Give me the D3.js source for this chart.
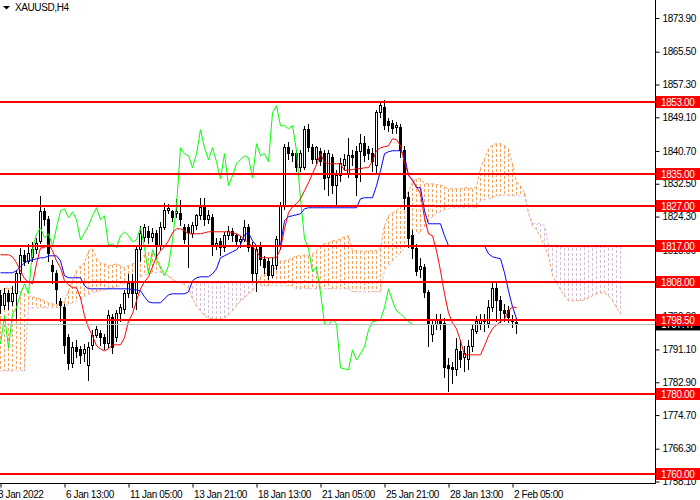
<!DOCTYPE html>
<html><head><meta charset="utf-8">
<script src="https://cdn.jsdelivr.net/npm/d3@7"></script>
<style>
html,body{margin:0;padding:0;background:#fff;overflow:hidden}
svg{display:block;font-family:"Liberation Sans",Arial,sans-serif}
text{font-size:10px;letter-spacing:-0.4px}
</style></head><body>
<svg id="c" width="700" height="500"></svg>
<script>
// ---- DATA ----
const symbol = "XAUUSD,H4";
const open = [1804.5,1802,1805,1803,1805,1810,1814.5,1813,1814,1816,
1818,1825.5,1823.5,1812,1810,1803,1801.5,1794,1787.5,1791.5,
1791,1790,1787,1792,1794.5,1795,1794,1792.5,1799,1794,
1800,1801,1805,1808,1805,1816,1819,1820.5,1819,1820,
1817,1821.5,1825.75,1825.5,1825,1825,1821.5,1821.5,1820,1822,
1824.5,1826.5,1823.5,1824,1817,1818,1816.5,1819.5,1820.5,1819.5,
1818,1818.5,1821.5,1817,1810,1816.5,1813.5,1813,1809.5,1812,
1817,1827,1841.5,1840,1840,1836.5,1836.5,1846,1841.5,1838.5,
1840.5,1840,1834,1839,1832,1834.5,1837,1835,1839.5,1840.5,
1840.5,1842.5,1841,1840,1837,1850.25,1851.5,1848,1847.5,1846.5,
1846.5,1840.75,1829,1819.5,1816.25,1811,1811.5,1805.25,1794.75,1797.25,
1798.5,1797.5,1787,1786.5,1786,1790.5,1789,1788.5,1791.75,1795.5,
1797.5,1798,1797.5,1801.5,1806.25,1803.25,1800.75,1800.75,1798.5,1797.75];
const high = [1806,1806.5,1806,1807,1811,1816.5,1816,1817.5,1818,1819,
1829.5,1826.5,1824.5,1813.5,1811,1804,1802.5,1795,1793,1793.5,
1792,1792.5,1793,1796,1797,1796,1795,1801,1800,1801,
1802.5,1806,1810,1810,1817,1822,1822.5,1822,1821.5,1821,
1823,1827.75,1827.5,1826,1828.75,1828.5,1822.5,1822.5,1823,1825,
1829,1829,1826,1825,1819,1819,1820.5,1822,1821.5,1820,
1819.5,1823.5,1822.5,1818,1817,1818,1814.5,1814,1814,1819.5,
1828,1842.5,1843,1841,1841,1841,1847,1847.5,1842.5,1842,
1841.5,1841,1841,1840,1836,1839,1840,1844,1841,1842,
1845,1844.5,1842,1841.5,1851,1853.25,1853.5,1849,1848.5,1848,
1847.5,1842,1830.5,1821,1817.5,1814,1812.5,1806,1798.5,1800,
1800,1799,1789,1788,1794,1793.5,1792,1793.5,1797.5,1799.5,
1800,1800,1803.5,1808.25,1808.25,1804.5,1802.5,1802,1799.75,1799];
const low = [1800,1801,1801,1802,1798.25,1808,1812,1812.5,1813,1815,
1817.5,1822,1813,1807.5,1802.5,1798,1790,1786,1786.5,1789,
1787.5,1788,1783.25,1791,1794,1792,1791,1791.5,1790,1793,
1798,1800,1804,1801.5,1801,1813,1818,1817.5,1818,1814,
1816,1821,1825,1823,1824,1822,1817.5,1811.5,1819,1821,
1823.5,1822,1822.5,1814.5,1816,1814.5,1815.5,1818.5,1818,1817,
1816.5,1818,1815.5,1808,1805.5,1812,1810,1808.5,1809,1811,
1816,1826,1838.5,1838,1835.5,1835.5,1836,1840.5,1837.5,1837.5,
1837,1831,1829.5,1830,1827,1833,1836,1834,1837,1829.5,
1833,1838,1838.5,1835.5,1835,1849,1846,1845.5,1845,1845,
1839,1826,1816.5,1813.75,1809.5,1809,1804,1791.75,1793,1796,
1796,1784,1780.5,1782.5,1784.5,1786.5,1785.5,1786,1790.5,1795,
1796,1795.5,1796.5,1800.5,1798,1797.75,1798,1797.75,1796.5,1795];
const close = [1802,1805,1803,1805,1810,1814.5,1813,1815,1816,1817.5,
1825.5,1823.5,1815,1810.5,1806,1802,1792,1787.5,1791.5,1790.5,
1789.5,1791,1791.5,1794.5,1796,1794,1792.5,1799.5,1791.5,1800,
1801.5,1805,1807.5,1805,1816,1820,1821.5,1819,1820,1817,
1821.5,1825.75,1826.25,1824,1825.5,1823.5,1818.5,1820.25,1822,1824.5,
1826.5,1823.5,1824.5,1817,1817.5,1816.5,1819.5,1820.5,1819.5,1818,
1818.5,1821.5,1816.5,1810,1816,1813.5,1811.5,1809.5,1812,1818.5,
1827,1841.5,1840,1839.5,1836.5,1840,1846,1841.5,1838.5,1841.5,
1838,1833.75,1840,1832,1834.5,1837.5,1838.5,1839.5,1839,1834,
1842.5,1839.5,1840,1838,1850.25,1852,1847,1847,1846.25,1847,
1840.75,1828.75,1818.75,1816.25,1810.5,1811.75,1805.25,1797.5,1797.25,1798.5,
1797.5,1786.5,1786.25,1786,1791,1788.5,1790,1791.75,1796,1798,
1798.25,1798.5,1801.5,1806.25,1803.25,1800.75,1800,1799,1798,1797.47];
const tenkan = [1814.75,1814.75,1814.75,1814.25,1812.75,1810.75,1808.75,1808.0,1807.5,1812.5,
1816.5,1816.5,1817.5,1815.75,1813.25,1811.5,1808.25,1807.25,1806.5,1806.5,
1804.0,1799.5,1796.5,1794.5,1792.0,1791.25,1790.75,1791.25,1792.25,1792.25,
1792.25,1794.0,1798.25,1800.0,1803.25,1806.25,1808.0,1809.25,1811.75,1814.25,
1815.75,1816.75,1818.25,1820.25,1821.25,1821.25,1820.75,1820.0,1820.0,1820.0,
1820.0,1820.25,1820.5,1820.5,1820.5,1820.5,1820.5,1820.5,1820.25,1820.0,
1819.5,1818.5,1817.75,1816.75,1815.75,1814.0,1814.0,1814.0,1814.0,1814.0,
1816.25,1821.25,1825.25,1826.75,1827.5,1828.75,1830.75,1832.75,1835.0,1837.25,
1840.0,1837.75,1837.5,1837.5,1837.5,1837.5,1835.75,1836.0,1836.0,1836.25,
1836.25,1836.5,1836.5,1838.25,1840.75,1841.5,1841.75,1842.0,1843.75,1843.5,
1842.0,1837.75,1834.75,1833.25,1831.75,1830.0,1824.0,1820.0,1819.5,1815.75,
1810.75,1805.0,1800.25,1797.75,1796.25,1793.25,1789.75,1789.75,1789.75,1789.75,
1789.75,1792.0,1794.5,1796.25,1797.25,1798.0,1798.75,1800.75,1801.75,1801.5];
const kijun = [1810.25,1810.25,1810.25,1810.25,1810.75,1811.75,1812.75,1813.25,1813.5,1813.75,
1814.0,1814.0,1814.5,1814.5,1814.5,1813.25,1809.5,1809.0,1809.0,1809.0,
1809.0,1807.0,1806.25,1806.25,1806.25,1806.25,1806.25,1806.25,1806.25,1806.25,
1806.25,1806.25,1806.25,1806.0,1806.0,1805.75,1804.25,1803.0,1802.75,1802.75,
1802.75,1803.75,1804.75,1805.0,1805.0,1805.0,1805.0,1805.5,1808.25,1809.0,
1809.25,1809.25,1809.25,1810.0,1811.25,1814.0,1814.5,1815.0,1815.5,1816.0,
1817.25,1819.75,1820.25,1818.25,1817.0,1817.0,1817.0,1817.0,1817.0,1817.0,
1817.25,1823.25,1824.25,1824.5,1824.75,1825.0,1826.25,1826.5,1826.5,1826.5,
1826.5,1826.5,1826.5,1826.5,1826.5,1826.5,1826.5,1826.5,1826.5,1826.5,
1828.75,1829.0,1829.0,1829.0,1832.0,1835.75,1840.0,1840.5,1840.75,1840.75,
1840.75,1839.5,1834.5,1833.5,1831.5,1831.5,1825.75,1822.5,1822.5,1822.5,
1822.5,1819.5,1817.0,1817.0,1817.0,1817.0,1817.0,1817.0,1817.0,1817.0,
1817.0,1817.0,1815.0,1814.25,1814.0,1813.75,1810.25,1805.75,1801.75,1798.75];
const spanA = [1805.75,1806.25,1806.5,1806.25,1805.75,1805.5,1805.0,1804.25,1804.25,1804.0,
1803.75,1803.25,1802.75,1802.5,1802.25,1802.5,1803.25,1805.75,1808.25,1810.75,
1812.0,1812.75,1815.75,1816.25,1813.75,1812.75,1812.5,1812.0,1812.25,1812.5,
1812.0,1811.5,1812.0,1812.5,1812.75,1813.75,1814.75,1815.25,1815.0,1814.25,
1812.0,1810.25,1809.5,1808.75,1808.0,1807.75,1807.25,1806.5,1803.75,1802.0,
1800.75,1799.5,1799.0,1798.75,1798.75,1798.75,1799.0,1799.75,1800.75,1802.0,
1803.25,1804.0,1805.0,1805.75,1807.25,1809.25,1810.0,1810.25,1810.75,1812.0,
1813.25,1813.25,1813.5,1814.0,1814.5,1814.5,1814.75,1814.5,1815.0,1815.75,
1817.0,1817.5,1817.75,1818.25,1818.25,1818.75,1819.25,1819.5,1815.75,1815.75,
1815.75,1815.5,1815.75,1815.75,1815.75,1816.25,1822.0,1824.5,1825.25,1825.75,
1827.0,1828.25,1830.75,1832.75,1833.75,1833.75,1832.5,1832.5,1832.5,1832.25,
1832.25,1831.75,1831.25,1831.25,1831.25,1831.25,1831.5,1831.5,1831.25,1831.75,
1836.5,1838.75,1841.25,1842.25,1842.5,1842.5,1842.0,1841.25,1837.5,1833.0,
1832.0,1830.25,1825.25,1822.0,1821.0,1819.25,1817.0,1814.5,1809.5,1807.75,
1806.0,1804.5,1803.25,1803.25,1803.25,1803.25,1803.5,1804.0,1804.5,1805.0,
1805.25,1805.25,1804.5,1803.25,1801.5,1800.0];
const spanB = [1785.75,1785.75,1785.75,1785.75,1785.75,1785.75,1785.75,1801.5,1801.5,1801.5,
1801.5,1801.5,1801.5,1801.5,1801.5,1801.5,1802.0,1802.25,1802.75,1803.25,
1803.75,1804.25,1804.75,1805.25,1805.5,1805.75,1806.0,1806.25,1806.5,1806.75,
1807.0,1807.5,1808.0,1808.25,1808.75,1809.25,1809.75,1810.0,1810.25,1810.25,
1810.25,1810.25,1809.25,1808.5,1808.0,1807.75,1807.75,1807.75,1807.75,1807.75,
1807.75,1807.75,1807.75,1807.75,1807.75,1807.75,1807.75,1807.75,1807.75,1807.75,
1807.75,1807.75,1807.75,1807.75,1807.75,1807.0,1807.0,1807.0,1807.0,1807.0,
1807.0,1807.0,1807.0,1807.0,1806.25,1806.25,1806.25,1806.25,1806.25,1806.25,
1806.25,1806.25,1806.25,1806.25,1806.25,1806.25,1806.25,1806.25,1805.5,1805.5,
1805.5,1805.5,1805.5,1805.5,1805.5,1805.5,1810.75,1812.0,1813.25,1814.25,
1815.25,1816.5,1819.0,1819.5,1820.0,1820.5,1821.75,1823.25,1824.25,1825.0,
1825.5,1826.0,1826.25,1826.5,1826.5,1826.5,1826.5,1826.5,1826.5,1826.5,
1828.25,1828.5,1828.75,1829.0,1829.5,1829.5,1829.5,1829.5,1829.5,1829.5,
1829.5,1829.5,1825.25,1822.75,1822.5,1822.5,1822.0,1817.25,1816.75,1816.75,
1816.75,1816.75,1816.75,1816.75,1816.75,1816.75,1816.75,1816.75,1816.75,1816.75,
1816.75,1816.75,1816.75,1816.75,1816.75,1816.75];
const chikouShift = 26;
const levels = [1853, 1835, 1827, 1817, 1808, 1798.5, 1780, 1760];
const bidPrice = 1797.47;
const priceTicks = [1873.9,1865.5,1857.3,1849.1,1840.7,1832.5,1824.3,1815.9,1807.5,1799.3,1791.1,1782.9,1774.7,1766.3,1758.1];
const dateTickBars = [0,16,32,48,64,80,96,112,128];
const dateLabels = ["3 Jan 2022","6 Jan 13:00","11 Jan 05:00","13 Jan 21:00","18 Jan 13:00","21 Jan 05:00","25 Jan 21:00","28 Jan 13:00","2 Feb 05:00"];

// ---- CHART ----
const PR = 655, PB = 483;
const svg = d3.select('#c');
const x = d3.scaleLinear().domain([0,1]).range([0.5,4.5]);
const y = d3.scaleLinear().domain([1760,1853]).range([473.9,101.7]);

svg.append('defs').append('clipPath').attr('id','clip')
  .append('rect').attr('x',0).attr('y',0).attr('width',PR).attr('height',PB);
const plot = svg.append('g').attr('clip-path','url(#clip)');

// cloud hatch
const cIdx = d3.range(spanA.length);
plot.append('g').selectAll('line').data(cIdx).join('line')
  .attr('x1',k=>x(k)).attr('x2',k=>x(k))
  .attr('y1',k=>y(spanA[k])).attr('y2',k=>y(spanB[k]))
  .attr('stroke',k=>spanA[k]>=spanB[k]?'#F4A460':'#D8BFD8')
  .attr('stroke-width',1).attr('stroke-dasharray','3,2')
  .attr('shape-rendering','crispEdges');

const line = d3.line().x((d,i)=>x(i)).y(d=>y(d));
plot.append('path').attr('d',line(spanA)).attr('fill','none').attr('stroke','#F4A460').attr('stroke-dasharray','3,2');
plot.append('path').attr('d',line(spanB)).attr('fill','none').attr('stroke','#D8BFD8').attr('stroke-dasharray','3,2');

// candles
const idx = d3.range(close.length);
const cg = plot.append('g').attr('shape-rendering','crispEdges');
cg.selectAll('line').data(idx).join('line')
  .attr('x1',k=>x(k)).attr('x2',k=>x(k))
  .attr('y1',k=>y(high[k])).attr('y2',k=>y(low[k]))
  .attr('stroke','#000');
cg.selectAll('rect').data(idx).join('rect')
  .attr('x',k=>x(k)-1).attr('width',2)
  .attr('y',k=>y(Math.max(open[k],close[k])))
  .attr('height',k=>Math.max(Math.abs(y(open[k])-y(close[k])),0.6))
  .attr('fill',k=>close[k]>=open[k]?'#fff':'#000')
  .attr('stroke','#000');

// indicator lines
const chikou = close.slice(chikouShift);
plot.append('path').attr('d',line(chikou)).attr('fill','none').attr('stroke','#00FF00').attr('stroke-width',1);
plot.append('path').attr('d',line(kijun)).attr('fill','none').attr('stroke','#0000FF').attr('stroke-width',1);
plot.append('path').attr('d',line(tenkan)).attr('fill','none').attr('stroke','#FF0000').attr('stroke-width',1);

// bid line
plot.append('line').attr('x1',0).attr('x2',PR).attr('y1',Math.round(y(bidPrice))+0.5).attr('y2',Math.round(y(bidPrice))+0.5)
  .attr('stroke','#C0C0C0').attr('stroke-width',1);

// horizontal levels
plot.append('g').selectAll('line').data(levels).join('line')
  .attr('x1',0).attr('x2',PR)
  .attr('y1',d=>Math.round(y(d))).attr('y2',d=>Math.round(y(d)))
  .attr('stroke','#FF0000').attr('stroke-width',2);

// axes frame
svg.append('line').attr('x1',PR+0.5).attr('x2',PR+0.5).attr('y1',0).attr('y2',PB+1).attr('stroke','#000');
svg.append('line').attr('x1',0).attr('x2',PR+1).attr('y1',PB+0.5).attr('y2',PB+0.5).attr('stroke','#000');

const ay = svg.append('g').attr('transform',`translate(${PR+0.5},0)`)
  .call(d3.axisRight(y).tickValues(priceTicks).tickSize(4).tickPadding(3).tickFormat(d3.format('.2f')));
ay.attr('font-family',null).attr('font-size',null);
ay.select('.domain').remove();
ay.selectAll('.tick line').attr('stroke','#000');
ay.selectAll('.tick text').attr('fill','#000');

const ax = svg.append('g').attr('transform',`translate(0,${PB+0.5})`)
  .call(d3.axisBottom(x).tickValues(dateTickBars).tickSize(4).tickPadding(3).tickFormat((d,i)=>dateLabels[i]));
ax.attr('font-family',null).attr('font-size',null);
ax.select('.domain').remove();
ax.selectAll('.tick text').attr('text-anchor','start').attr('fill','#000').attr('x',(d,i)=>i===0?-3:1);

// bid label
const by = y(bidPrice);
svg.append('rect').attr('x',656).attr('y',by-5.5).attr('width',44).attr('height',12).attr('fill','#000');
svg.append('text').attr('x',661).attr('y',by+4).attr('fill','#fff').text(d3.format('.2f')(bidPrice));

// level labels
const lg = svg.append('g').selectAll('g').data(levels).join('g');
lg.append('rect').attr('x',656).attr('y',d=>Math.round(y(d))-6).attr('width',44).attr('height',12).attr('fill','#FF0000');
lg.append('text').attr('x',661).attr('y',d=>Math.round(y(d))+4).attr('fill','#fff').text(d=>d3.format('.2f')(d));

// title
svg.append('path').attr('d','M3,6 L10,6 L6.5,9.5 Z').attr('fill','#000');
svg.append('text').attr('x',15).attr('y',11).attr('fill','#000').text(symbol);
</script>
</body></html>
